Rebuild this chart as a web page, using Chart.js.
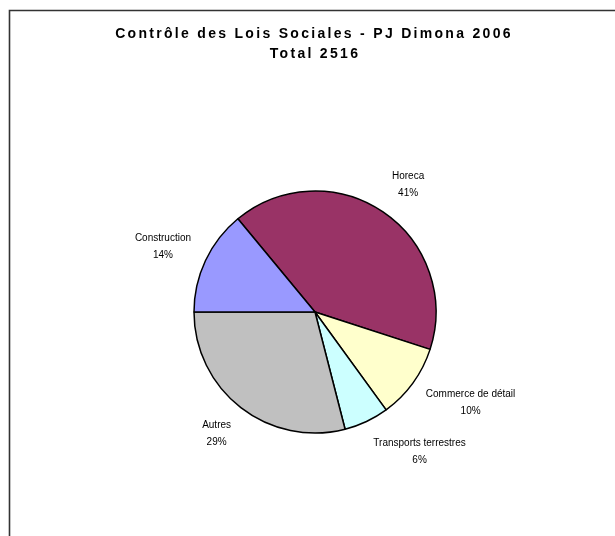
<!DOCTYPE html>
<html lang="fr">
<head>
<meta charset="utf-8">
<title>Contrôle des Lois Sociales - PJ Dimona 2006</title>
<script src="https://cdn.jsdelivr.net/npm/chart.js@4/dist/chart.umd.min.js"></script>
<style>
    html, body { margin: 0; padding: 0; background: #fff; }
    #wrap { position: relative; width: 615px; height: 536px; }
</style>
</head>
<body>
<div id="wrap"><canvas id="pieChart"></canvas></div>
<script>
// Secteurs contrôlés (ordre de tracé, sens horaire)
const sectors = ['Horeca', 'Commerce de détail', 'Transports terrestres', 'Autres', 'Construction'];
const shares = [41, 10, 6, 29, 14];
const sectorColors = ['#993366', '#FFFFCC', '#CCFFFF', '#C0C0C0', '#9999FF'];
const titleLines = ['Contrôle des Lois Sociales - PJ Dimona 2006', 'Total 2516'];

// Cadre + titre dessinés à la main (espacement des lettres)
const frameTitle = {
    id: 'frameTitle',
    beforeDraw(chart) {
        const ctx = chart.ctx;
        ctx.save();
        ctx.strokeStyle = '#333';
        ctx.lineWidth = 1.6;
        ctx.beginPath();
        ctx.moveTo(9.5, 540);
        ctx.lineTo(9.5, 10.5);
        ctx.lineTo(620, 10.5);
        ctx.stroke();

        ctx.fillStyle = '#000';
        ctx.font = 'bold 14px "Liberation Sans", Arial, sans-serif';
        ctx.letterSpacing = '2.3px';
        ctx.textAlign = 'center';
        ctx.textBaseline = 'alphabetic';
        ctx.fillText(titleLines[0], 314, 38);
        ctx.fillText(titleLines[1], 315, 58);
        ctx.restore();
    }
};

// Étiquettes extérieures : nom + pourcentage
const outsideLabels = {
    id: 'outsideLabels',
    afterDatasetsDraw(chart) {
        const ctx = chart.ctx;
        const meta = chart.getDatasetMeta(0);
        const data = chart.data.datasets[0].data;
        const total = data.reduce((a, b) => a + b, 0);
        const gap = 16;
        const lineH = 17;

        ctx.save();
        ctx.fillStyle = '#000';
        ctx.font = '10px "Liberation Sans", Arial, sans-serif';
        ctx.textAlign = 'center';
        ctx.textBaseline = 'middle';

        meta.data.forEach((arc, i) => {
            const mid = (arc.startAngle + arc.endAngle) / 2;
            const dx = Math.cos(mid);
            const dy = Math.sin(mid);
            const pct = Math.round(data[i] / total * 100) + '%';
            const name = chart.data.labels[i];
            const w = Math.max(ctx.measureText(name).width, ctx.measureText(pct).width);
            const h = lineH * 2;
            const px = arc.x + (arc.outerRadius + gap) * dx;
            const py = arc.y + (arc.outerRadius + gap) * dy;
            const cx = px + Math.sign(dx) * w / 2;
            const cy = py + dy * h / 2;
            ctx.fillText(name, cx, cy - lineH / 2);
            ctx.fillText(pct, cx, cy + lineH / 2);
        });
        ctx.restore();
    }
};

new Chart(document.getElementById('pieChart'), {
    type: 'pie',
    data: {
        labels: sectors,
        datasets: [{
            data: shares,
            backgroundColor: sectorColors,
            borderColor: '#000',
            borderWidth: 1.5,
            radius: 121
        }]
    },
    options: {
        responsive: true,
        maintainAspectRatio: false,
        animation: false,
        rotation: -39.6,
        layout: { padding: { left: 40, right: 25, top: 120, bottom: 32 } },
        plugins: {
            legend: { display: false },
            title: { display: false },
            tooltip: { enabled: false }
        }
    },
    plugins: [frameTitle, outsideLabels]
});
</script>
</body>
</html>
